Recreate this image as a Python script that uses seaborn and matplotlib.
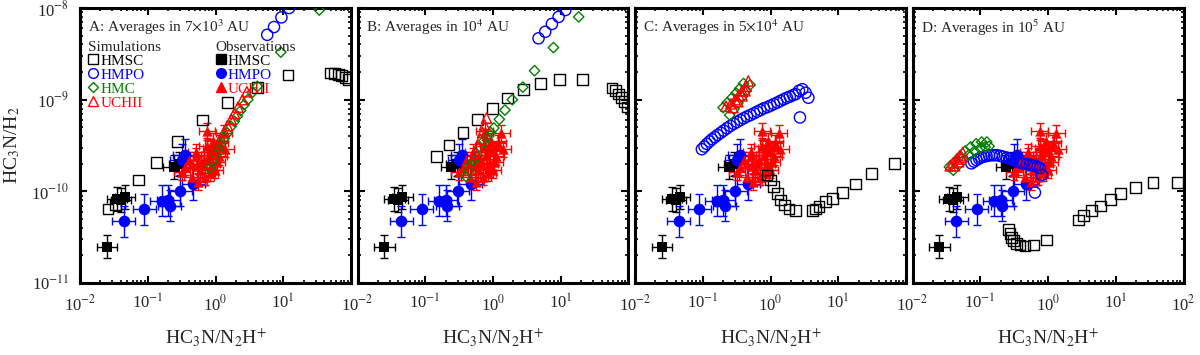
import numpy as np
import matplotlib.pyplot as plt
import seaborn as sns
from matplotlib.lines import Line2D
from matplotlib.ticker import LogLocator, NullFormatter

# ---- observations (same in every panel) ----
obs_hmsc_x = [0.025, 0.035, 0.040, 0.046, 0.24, 0.29]
obs_hmsc_y = [2.5e-11, 8.3e-11, 8.0e-11, 8.6e-11, 1.85e-10, 2.0e-10]
obs_hmpo_x = [0.044, 0.089, 0.16, 0.20, 0.21, 0.30, 0.47, 0.32, 0.35]
obs_hmpo_y = [4.7e-11, 6.4e-11, 7.9e-11, 8.0e-11, 7.0e-11, 1.02e-10, 1.2e-10, 2.2e-10, 2.5e-10]
obs_uchii_x = [0.32, 0.36, 0.45, 0.51, 0.51, 0.56, 0.60, 0.67, 0.71, 0.75, 0.75, 0.84, 0.89,
               0.93, 0.99, 0.99, 1.12, 1.17, 1.33, 1.40, 0.40, 0.62, 0.80, 1.05, 0.55, 0.85]
obs_uchii_y = [1.64e-10, 1.86e-10, 1.45e-10, 2.7e-10, 2.4e-10, 1.28e-10, 1.7e-10, 2.2e-10, 1.45e-10,
               3.1e-10, 4.5e-10, 1.6e-10, 2.0e-10, 3.5e-10, 2.8e-10, 1.7e-10, 2.4e-10, 3.35e-10,
               4.3e-10, 2.9e-10, 2.2e-10, 2.0e-10, 2.5e-10, 2.1e-10, 1.9e-10, 3.0e-10]
# error half-widths in dex (x, y)
obs_hmsc_err = (0.15, 0.13)
obs_hmpo_err = (0.17, 0.17)
obs_uchii_err = (0.12, 0.09)

# ---- panel A: 7x10^3 AU ----
a_hmsc_x = [0.026, 0.033, 0.073, 0.134, 0.276, 0.65, 1.52, 4.15, 11.8, 50, 57, 65, 72, 82, 92]
a_hmsc_y = [6.4e-11, 7.1e-11, 1.33e-10, 2.06e-10, 3.5e-10, 6.0e-10, 9.4e-10, 1.37e-9, 1.86e-9,
            1.95e-9, 1.92e-9, 1.88e-9, 1.82e-9, 1.75e-9, 1.65e-9]
a_hmpo_x = [5.8, 7.3, 9.4, 12.2]
a_hmpo_y = [5.1e-9, 6.2e-9, 7.9e-9, 1.0e-8]
a_hmc_x = [0.82, 0.9, 1.0, 1.1, 1.2, 1.35, 1.5, 1.7, 1.9, 2.1, 2.35, 2.65, 3.0, 3.5, 4.15, 9.2, 34]
a_hmc_y = [1.8e-10, 2.1e-10, 2.5e-10, 2.9e-10, 3.3e-10, 3.8e-10, 4.3e-10, 5.1e-10, 5.8e-10,
           6.6e-10, 7.6e-10, 8.8e-10, 1.0e-9, 1.2e-9, 1.4e-9, 3.3e-9, 9.5e-9]
a_uchii_x = [0.75, 0.82, 0.9, 1.0, 1.1, 1.2, 1.35, 1.5, 1.7, 1.9, 2.15, 2.5, 2.9]
a_uchii_y = [2.0e-10, 2.3e-10, 2.6e-10, 3.0e-10, 3.4e-10, 3.8e-10, 4.5e-10, 5.2e-10, 6.1e-10,
             7.1e-10, 8.3e-10, 1.0e-9, 1.22e-9]

# ---- panel B: 10^4 AU ----
b_hmsc_x = [0.147, 0.225, 0.36, 0.59, 0.98, 1.65, 2.8, 4.97, 9.7, 21, 57, 64, 71, 78, 86, 95]
b_hmsc_y = [2.4e-10, 3.2e-10, 4.4e-10, 6.1e-10, 8.05e-10, 1.04e-9, 1.28e-9, 1.5e-9, 1.67e-9,
            1.67e-9, 1.34e-9, 1.25e-9, 1.15e-9, 1.05e-9, 9.5e-10, 8.3e-10]
b_hmpo_x = [4.7, 5.9, 7.4, 9.3, 11.7]
b_hmpo_y = [4.67e-9, 5.5e-9, 6.7e-9, 8.0e-9, 9.5e-9]
b_hmc_x = [0.40, 0.44, 0.48, 0.52, 0.57, 0.64, 0.72, 0.81, 0.92, 1.03, 1.24, 1.5, 1.93, 2.75,
           4.1, 7.8, 18.4]
b_hmc_y = [1.45e-10, 1.7e-10, 1.95e-10, 2.15e-10, 2.4e-10, 3.05e-10, 3.5e-10, 3.95e-10, 4.4e-10,
           4.9e-10, 6.1e-10, 7.7e-10, 1.0e-9, 1.37e-9, 2.07e-9, 3.7e-9, 8.0e-9]
b_uchii_x = [0.45, 0.5, 0.55, 0.6, 0.65, 0.7, 0.75, 0.8]
b_uchii_y = [1.7e-10, 2.1e-10, 2.6e-10, 3.1e-10, 3.7e-10, 4.4e-10, 5.3e-10, 6.3e-10]

# ---- panel C: 5x10^4 AU ----
c_hmsc_x = [0.89, 1.0, 1.12, 1.26, 1.41, 1.61, 1.87, 2.35, 4.15, 4.65, 5.2, 6.5, 8.2, 11.5, 18.2, 31, 67]
c_hmsc_y = [1.51e-10, 1.33e-10, 1.12e-10, 9.5e-11, 8.05e-11, 7.1e-11, 6.4e-11, 6.2e-11, 6.2e-11,
            6.4e-11, 6.8e-11, 7.7e-11, 8.4e-11, 9.8e-11, 1.2e-10, 1.57e-10, 2.0e-10]
c_hmpo_x = [0.097, 0.106, 0.115, 0.126, 0.137, 0.151, 0.166, 0.184, 0.203, 0.228, 0.255, 0.287,
            0.321, 0.36, 0.402, 0.45, 0.506, 0.57, 0.635, 0.71, 0.796, 0.9, 1.0, 1.12, 1.26,
            1.4, 1.57, 1.75, 1.93, 2.15, 2.35, 2.63, 2.95, 3.3, 3.62, 2.72]
c_hmpo_y = [2.88e-10, 3.08e-10, 3.29e-10, 3.5e-10, 3.7e-10, 3.9e-10, 4.12e-10, 4.35e-10, 4.59e-10,
            4.88e-10, 5.17e-10, 5.45e-10, 5.71e-10, 6.0e-10, 6.27e-10, 6.55e-10, 6.8e-10, 7.1e-10,
            7.4e-10, 7.7e-10, 8.05e-10, 8.3e-10, 8.6e-10, 8.95e-10, 9.3e-10, 9.7e-10, 1.01e-9,
            1.05e-9, 1.08e-9, 1.12e-9, 1.15e-9, 1.25e-9, 1.3e-9, 1.19e-9, 1.05e-9, 6.4e-10]
c_hmc_x = [0.20, 0.23, 0.27, 0.31, 0.35, 0.40, 0.25, 0.29, 0.33, 0.38, 0.44, 0.50]
c_hmc_y = [8.2e-10, 9.3e-10, 1.05e-9, 1.18e-9, 1.32e-9, 1.5e-9, 6.8e-10, 7.9e-10, 9.2e-10,
           1.07e-9, 1.25e-9, 1.45e-9]
c_uchii_x = [0.22, 0.26, 0.30, 0.34, 0.38, 0.43, 0.47, 0.28, 0.33, 0.38, 0.42]
c_uchii_y = [8.5e-10, 9.0e-10, 1.0e-9, 1.12e-9, 1.25e-9, 1.4e-9, 1.6e-9, 8.2e-10, 9.5e-10,
             1.1e-9, 1.25e-9]

# ---- panel D: 10^5 AU ----
d_hmsc_x = [0.258, 0.274, 0.29, 0.313, 0.343, 0.385, 0.456, 0.605, 0.957, 2.81, 3.34, 4.44,
            5.89, 8.3, 11.9, 19.5, 35.6, 80.7]
d_hmsc_y = [3.8e-11, 3.49e-11, 3.16e-11, 2.9e-11, 2.71e-11, 2.6e-11, 2.54e-11, 2.6e-11, 2.95e-11,
            4.88e-11, 5.4e-11, 6.16e-11, 6.9e-11, 8.2e-11, 9.5e-11, 1.1e-10, 1.25e-10, 1.25e-10]
d_hmpo_x = [0.074, 0.081, 0.088, 0.096, 0.104, 0.114, 0.124, 0.135, 0.147, 0.16, 0.174, 0.195,
            0.218, 0.245, 0.273, 0.307, 0.344, 0.385, 0.43, 0.485, 0.541, 0.59, 0.641, 0.7,
            0.76, 0.81, 0.641]
d_hmpo_y = [2.02e-10, 2.11e-10, 2.2e-10, 2.28e-10, 2.35e-10, 2.4e-10, 2.43e-10, 2.46e-10, 2.48e-10,
            2.48e-10, 2.48e-10, 2.44e-10, 2.39e-10, 2.33e-10, 2.27e-10, 2.19e-10, 2.11e-10,
            2.06e-10, 2.02e-10, 1.98e-10, 1.95e-10, 1.92e-10, 1.9e-10, 1.85e-10, 1.79e-10,
            1.51e-10, 9.7e-11]
d_hmc_x = [0.035, 0.042, 0.050, 0.060, 0.072, 0.087, 0.105, 0.125,
           0.040, 0.048, 0.057, 0.068, 0.082, 0.099, 0.118, 0.135]
d_hmc_y = [1.85e-10, 2.1e-10, 2.4e-10, 2.75e-10, 3.05e-10, 3.3e-10, 3.45e-10, 3.45e-10,
           1.7e-10, 1.95e-10, 2.2e-10, 2.5e-10, 2.75e-10, 2.95e-10, 3.05e-10, 3.1e-10]
d_uchii_x = [0.036, 0.040, 0.045, 0.050, 0.055, 0.042, 0.048, 0.053]
d_uchii_y = [1.9e-10, 2.05e-10, 2.25e-10, 2.45e-10, 2.65e-10, 1.9e-10, 2.1e-10, 2.35e-10]

panel_titles = ['A: Averages in 7$\\times$10$^3$ AU', 'B: Averages in 10$^4$ AU',
                'C: Averages in 5$\\times$10$^4$ AU', 'D: Averages in 10$^5$ AU']
xticks = [1e-2, 1e-1, 1e0, 1e1, 1e2]
xtick_labels = ['10$^{-2}$', '10$^{-1}$', '10$^{0}$', '10$^{1}$', '10$^{2}$']
yticks = [1e-11, 1e-10, 1e-9, 1e-8]
ytick_labels = ['10$^{-11}$', '10$^{-10}$', '10$^{-9}$', '10$^{-8}$']
group_names = ['HMSC', 'HMPO', 'HMC', 'UCHII']

sns.set_theme(style='ticks')
plt.rcParams['font.family'] = ['Liberation Serif', 'DejaVu Serif']
plt.rcParams['mathtext.fontset'] = 'stix'

BLACK, BLUE, GREEN, RED = 'black', '#0000ff', '#008000', '#ff0000'
sim_style = {'HMSC': ('s', BLACK, 60), 'HMPO': ('o', BLUE, 65),
             'HMC': ('D', GREEN, 28), 'UCHII': ('^', RED, 55)}
legend_ms = {'HMSC': 7, 'HMPO': 7, 'HMC': 5.5, 'UCHII': 7}

sims = [
    [(a_hmsc_x, a_hmsc_y), (a_hmpo_x, a_hmpo_y), (a_hmc_x, a_hmc_y), (a_uchii_x, a_uchii_y)],
    [(b_hmsc_x, b_hmsc_y), (b_hmpo_x, b_hmpo_y), (b_hmc_x, b_hmc_y), (b_uchii_x, b_uchii_y)],
    [(c_hmsc_x, c_hmsc_y), (c_hmpo_x, c_hmpo_y), (c_hmc_x, c_hmc_y), (c_uchii_x, c_uchii_y)],
    [(d_hmsc_x, d_hmsc_y), (d_hmpo_x, d_hmpo_y), (d_hmc_x, d_hmc_y), (d_uchii_x, d_uchii_y)],
]
obs = [(obs_hmsc_x, obs_hmsc_y, obs_hmsc_err, 's', BLACK, 55),
       (obs_hmpo_x, obs_hmpo_y, obs_hmpo_err, 'o', BLUE, 70),
       (obs_uchii_x, obs_uchii_y, obs_uchii_err, '^', RED, 55)]

fig = plt.figure(figsize=(12, 3.55), dpi=100)
lefts = [80, 357.5, 635, 912.5]

for i, left in enumerate(lefts):
    ax = fig.add_axes([left / 1200, 72 / 355, 271 / 1200, 275 / 355])
    ax.set_xscale('log')
    ax.set_yscale('log')

    # observations with error bars
    for x, y, (ex, ey), m, c, s in obs:
        x = np.array(x)
        y = np.array(y)
        ax.errorbar(x, y, xerr=[x - x / 10**ex, x * 10**ex - x],
                    yerr=[y - y / 10**ey, y * 10**ey - y],
                    fmt='none', ecolor=c, elinewidth=1, capsize=3, capthick=1, zorder=2)
        sns.scatterplot(x=x, y=y, ax=ax, marker=m, s=s, color=c, edgecolor=c,
                        linewidth=0, zorder=3, legend=False)

    # simulations, open symbols
    for name, (x, y) in zip(group_names, sims[i]):
        m, c, s = sim_style[name]
        sns.scatterplot(x=x, y=y, ax=ax, marker=m, s=s, facecolor='none', edgecolor=c,
                        linewidth=1, zorder=4, legend=False)

    ax.set_xlim(1e-2, 1e2)
    ax.set_ylim(1e-11, 1e-8)
    labels = list(xtick_labels) if i == 3 else xtick_labels[:-1] + ['']
    ax.set_xticks(xticks, labels=labels)
    ax.xaxis.set_minor_locator(LogLocator(base=10, subs=np.arange(2, 10)))
    ax.xaxis.set_minor_formatter(NullFormatter())
    ax.yaxis.set_minor_locator(LogLocator(base=10, subs=np.arange(2, 10)))
    ax.yaxis.set_minor_formatter(NullFormatter())
    if i == 0:
        ax.set_yticks(yticks, labels=ytick_labels)
        ax.set_ylabel('HC$_3$N/H$_2$', fontsize=14, labelpad=6)
    else:
        ax.set_yticks(yticks, labels=[''] * len(yticks))
    ax.tick_params(which='both', direction='in', top=True, right=True, labelsize=12,
                   color='black', pad=8)
    ax.tick_params(which='major', length=5, width=1.5)
    ax.tick_params(which='minor', length=2.5, width=1.2)
    for sp in ax.spines.values():
        sp.set_linewidth(2.2)
        sp.set_color('black')
    ax.set_xlabel('HC$_3$N/N$_2$H$^{+}$', fontsize=14, labelpad=9)
    ax.text(0.03, 0.965, panel_titles[i], transform=ax.transAxes, fontsize=11,
            ha='left', va='top')

    if i == 0:
        sim_handles = [Line2D([], [], ls='', marker=sim_style[n][0], mfc='none',
                              mec=sim_style[n][1], ms=legend_ms[n], mew=1) for n in group_names]
        leg1 = ax.legend(sim_handles, group_names, title='Simulations', loc='upper left',
                         bbox_to_anchor=(-0.01, 0.92), frameon=False, fontsize=11,
                         title_fontsize=11, handlelength=0.7, handletextpad=0.1,
                         labelspacing=0.02, borderpad=0.2, labelcolor='markeredgecolor')
        leg1._legend_box.align = 'left'
        ax.add_artist(leg1)
        obs_handles = [Line2D([], [], ls='', marker=o[3], mfc=o[4], mec=o[4], ms=7)
                       for o in obs]
        leg2 = ax.legend(obs_handles, ['HMSC', 'HMPO', 'UCHII'], title='Observations',
                         loc='upper left', bbox_to_anchor=(0.46, 0.92), frameon=False,
                         fontsize=11, title_fontsize=11, handlelength=0.7,
                         handletextpad=0.1, labelspacing=0.02, borderpad=0.2,
                         labelcolor='markeredgecolor')
        leg2._legend_box.align = 'left'

fig.savefig('out.png', dpi=100)
